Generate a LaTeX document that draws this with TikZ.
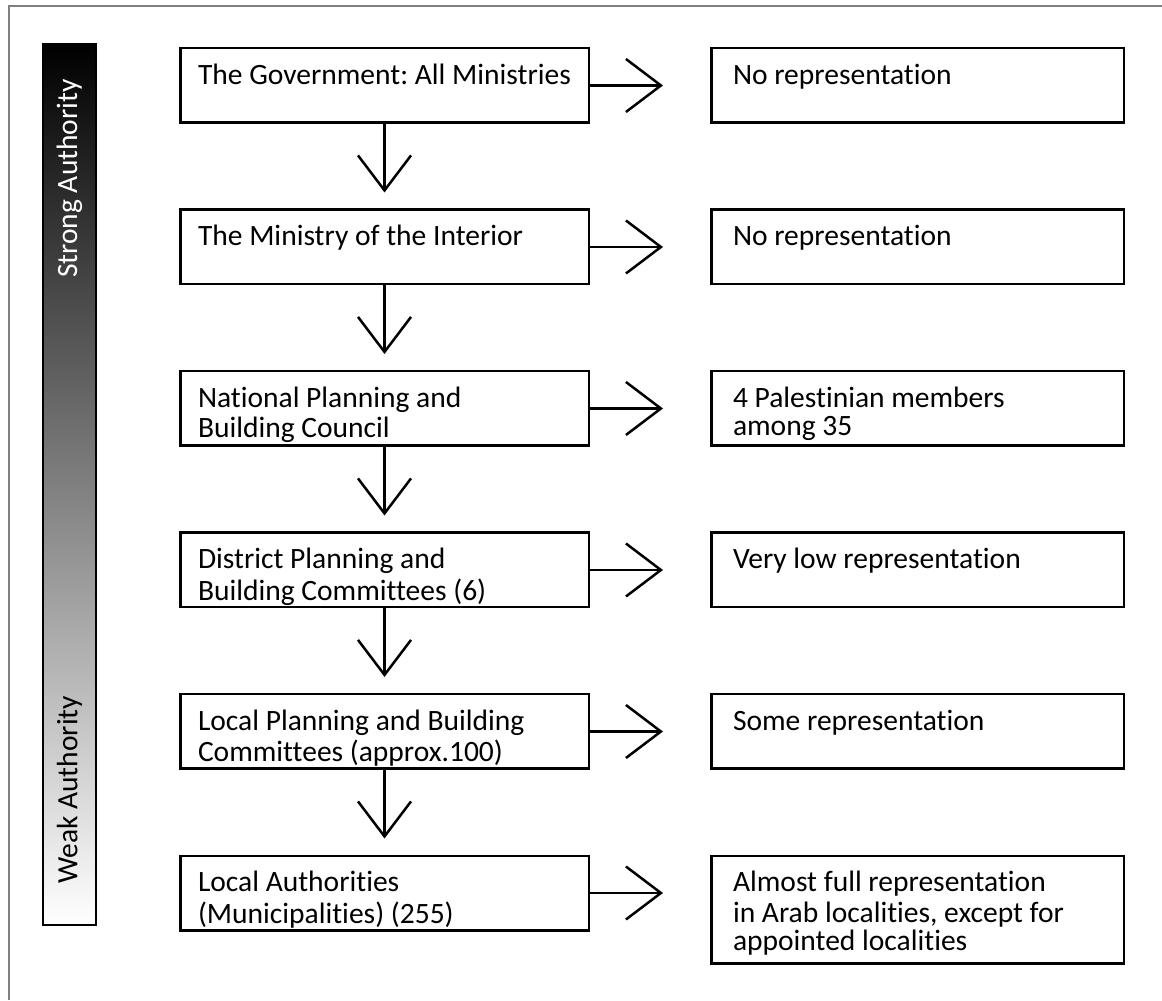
\documentclass[tikz,border=0pt]{standalone}
\usepackage{fontspec}
\setmainfont{Carlito}[Ligatures=NoCommon]
\usepackage{tikz}
\usetikzlibrary{arrows.meta, positioning}

\tikzset{
  level/.style={draw, line width=0.05cm, inner xsep=0.355cm, inner ysep=0.31cm, anchor=north west},
  rep/.style={level, inner xsep=0.435cm},
  down/.style={-{Straight Barb[length=0.7cm, width=1.06cm]}, line width=0.05cm, shorten >=0.32cm},
  across/.style={-{Straight Barb[length=0.7cm, width=1.06cm]}, line width=0.05cm, shorten >=0.94cm}
}
\newcommand{\lvtext}[1]{\parbox[t][0.87cm][t]{7.46cm}{\frenchspacing\strut #1}}
\newcommand{\reptext}[2][0.87cm]{\parbox[t][#1][t]{7.38cm}{\frenchspacing\strut #2}}

\begin{document}
\begin{tikzpicture}[font=\fontsize{16.8pt}{15.8pt}\selectfont]
        \useasboundingbox (0,0) rectangle (23.24,20);
        \draw[gray, line width=0.04cm] (0.18,0) -- (0.18,19.88) -- (23.24,19.88);

        % authority scale
        \node[draw, line width=0.05cm, top color=black, bottom color=white, minimum width=1.06cm, minimum height=17.62cm, inner sep=0pt] (scale) at (1.39,10.31) {};
        \node[rotate=90, anchor=east, inner sep=0pt, text=white] (strong) at ([yshift=-0.72cm]scale.north) {Strong Authority};
        \node[rotate=90, anchor=west, inner sep=0pt] (weak) at ([yshift=0.84cm]scale.south) {Weak Authority};

        % planning hierarchy
        \node[level] (gov) at (3.58,19.06) {\lvtext{The Government: All Ministries}};
        \node[level, below=1.69cm of gov] (moi) {\lvtext{The Ministry of the Interior}};
        \node[level, below=1.69cm of moi] (npbc) {\lvtext{National Planning and\\Building Council}};
        \node[level, below=1.69cm of npbc] (dpbc) {\lvtext{District Planning and\\Building Committees (6)}};
        \node[level, below=1.69cm of dpbc] (lpbc) {\lvtext{Local Planning and Building\\Committees (approx.100)}};
        \node[level, below=1.69cm of lpbc] (la) {\lvtext{Local Authorities\\(Municipalities) (255)}};

        % representation
        \node[rep, right=2.4cm of gov] (gov-rep) {\reptext{No representation}};
        \node[rep, right=2.4cm of moi] (moi-rep) {\reptext{No representation}};
        \node[rep, right=2.4cm of npbc] (npbc-rep) {\reptext{4 Palestinian members\\among 35}};
        \node[rep, right=2.4cm of dpbc] (dpbc-rep) {\reptext{Very low representation}};
        \node[rep, right=2.4cm of lpbc] (lpbc-rep) {\reptext{Some representation}};
        \node[rep, right=2.4cm of la.north east, anchor=north west] (la-rep) {\reptext[1.53cm]{Almost full representation\\in Arab localities, except for\\appointed localities}};

        \draw[down] (gov) -- (moi);
        \draw[down] (moi) -- (npbc);
        \draw[down] (npbc) -- (dpbc);
        \draw[down] (dpbc) -- (lpbc);
        \draw[down] (lpbc) -- (la);

        \draw[across] (gov) -- (gov-rep);
        \draw[across] (moi) -- (moi-rep);
        \draw[across] (npbc) -- (npbc-rep);
        \draw[across] (dpbc) -- (dpbc-rep);
        \draw[across] (lpbc) -- (lpbc-rep);
        \draw[across] (la.east) -- (la.east -| la-rep.west);
    \end{tikzpicture}
\end{document}
